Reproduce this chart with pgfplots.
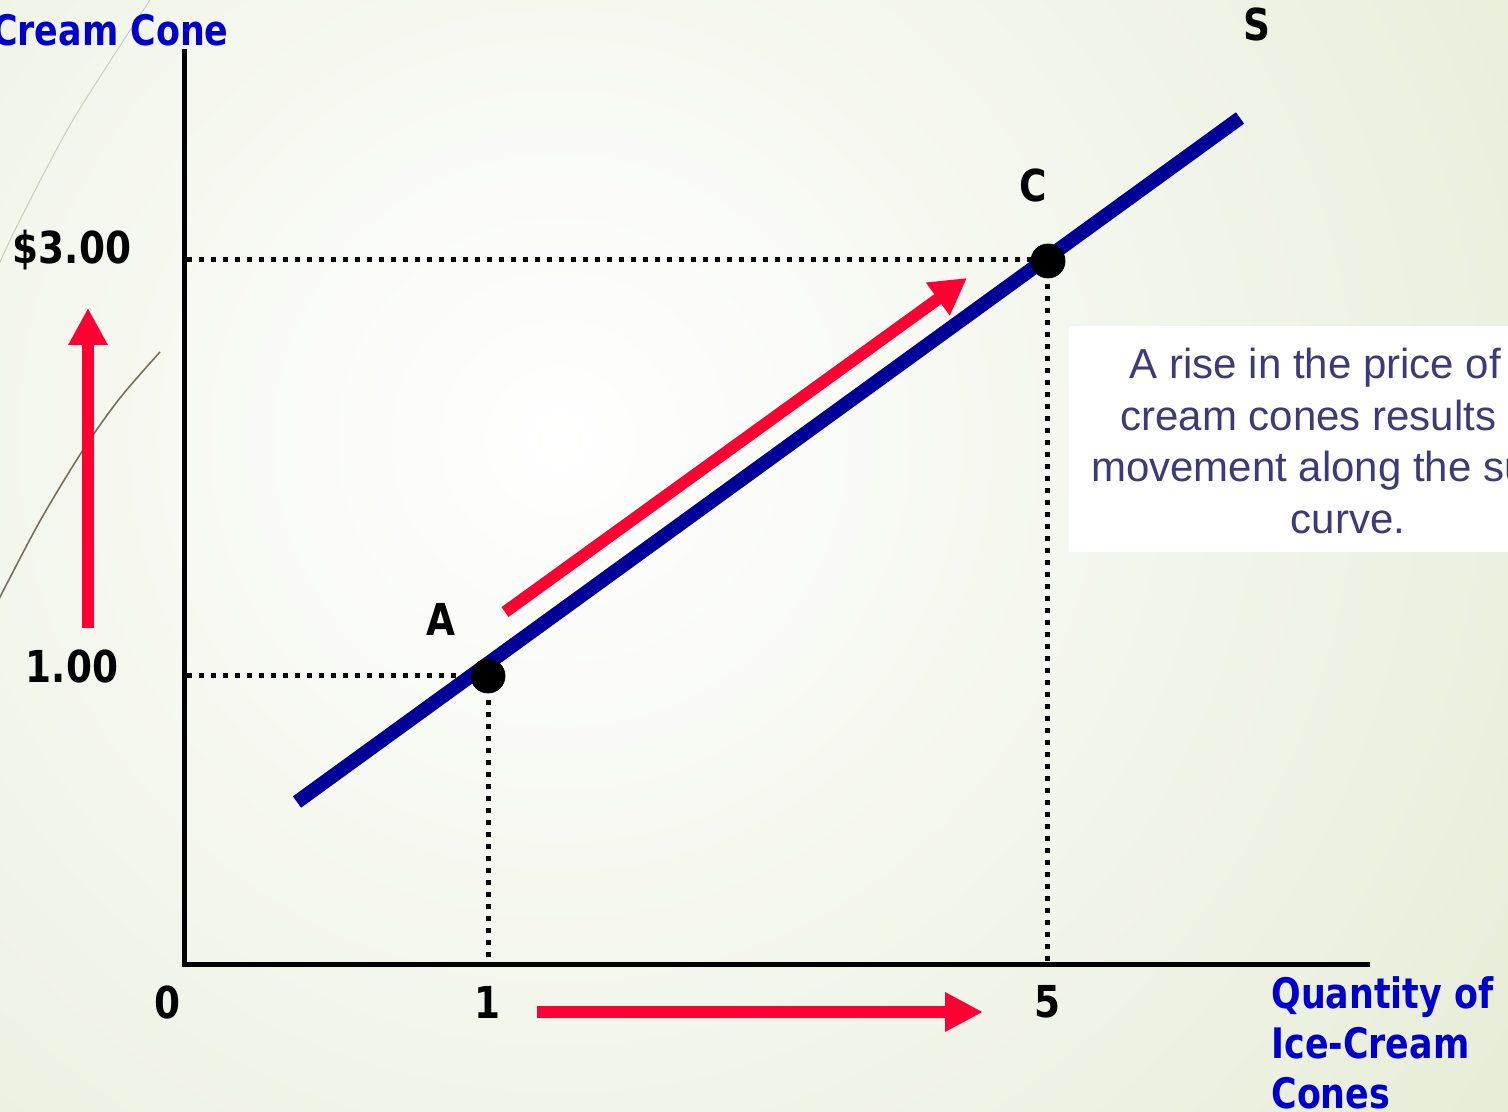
\documentclass[border=0pt]{standalone}
\usepackage{fontspec}
\setmainfont{Liberation Sans}
\newfontfamily\vb[FakeStretch=0.85]{DejaVu Sans}
\newfontfamily\vbb[FakeStretch=0.83]{DejaVu Sans}
\usepackage{pgfplots}
\pgfplotsset{compat=1.18}
\usetikzlibrary{arrows.meta}
\definecolor{bgG}{RGB}{226,233,208}
\definecolor{supnavy}{RGB}{0,0,153}
\definecolor{arred}{RGB}{255,0,51}
\definecolor{tblue}{RGB}{0,0,204}
\definecolor{boxtxt}{RGB}{62,58,120}
\definecolor{faint}{RGB}{205,205,190}
\definecolor{brownish}{RGB}{120,112,95}
\begin{document}
\begin{tikzpicture}
\useasboundingbox (0,0) rectangle (754pt,556pt);
\clip (0,0) rectangle (754pt,556pt);
\fill[bgG] (0,0) rectangle (754pt,556pt);
\shade[inner color=white, outer color=bgG] (280pt,336pt) circle (700pt);
\begin{axis}[
  x=0.5pt, y=0.5pt,
  xmin=184, xmax=1367, ymin=147, ymax=1060,
  at={(92pt,73.5pt)}, anchor=south west,
  axis lines=left,
  axis line style={-, line width=2.5pt, black, line cap=rect},
  clip=false,
  xtick={184,488,1047},
  xticklabels={\hspace*{-8pt}0\hspace*{8pt},1,5},
  ytick={436,852},
  yticklabels={1.00,\$3.00},
  major tick length=0pt,
  tick style={draw=none},
  ticklabel style={font=\vb\bfseries\fontsize{22pt}{26pt}\selectfont, text=black},
  xticklabel style={anchor=center, yshift=-18.5pt},
  yticklabel style={anchor=center, xshift=-56pt, yshift=5pt},
  /pgf/number format/assume math mode=true,
]
% slide decorations
\addplot[faint, line width=0.5pt, smooth] coordinates {(150,1112) (73,992) (20,892) (0,850) (-5,840)};
\addplot[brownish, line width=0.8pt, smooth] coordinates {(-5,505) (0,515) (40,591) (83,662) (120,714) (160,760)};
% text box
\fill[white] (axis cs:1069,560) rectangle (axis cs:1520,786);
\node[text=boxtxt, font=\fontsize{21pt}{25.75pt}\selectfont, align=center, inner sep=0pt] at (axis cs:1348,671) {A rise in the price of ice\rlap{-}\\cream cones results in a\\movement along the supply\\curve.};
% dotted guides
\addplot[black, line width=2.5pt, dash pattern=on 2.5pt off 3.5pt] coordinates {(187,852) (1047,852)};
\addplot[black, line width=2.5pt, dash pattern=on 2.5pt off 3.5pt] coordinates {(187,436) (488,436)};
\addplot[black, line width=2.5pt, dash pattern=on 2.5pt off 3.5pt] coordinates {(488,436) (488,149)};
\addplot[black, line width=2.5pt, dash pattern=on 2.5pt off 3.5pt] coordinates {(1047,852) (1047,149)};
% supply curve
\addplot[supnavy, line width=7pt] coordinates {(297,310) (1240,994)};
% points A and C
\addplot[only marks, mark=*, mark size=8.5pt, black] coordinates {(488,436) (1048,851)};
% red arrows
\addplot[arred, line width=6pt, -{Triangle[width=19pt,length=18pt]}] coordinates {(505,500) (967,834)};
\addplot[arred, line width=6pt, -{Triangle[width=18.5pt,length=18.5pt]}] coordinates {(88,484) (88,804)};
\addplot[arred, line width=6pt, -{Triangle[width=18.5pt,length=19pt]}] coordinates {(537,100) (983,100)};
% labels
\node[font=\vb\bfseries\fontsize{22pt}{26pt}\selectfont] at (axis cs:441,493) {A};
\node[font=\vb\bfseries\fontsize{22pt}{26pt}\selectfont] at (axis cs:1033,926) {C};
\node[font=\vb\bfseries\fontsize{22pt}{26pt}\selectfont] at (axis cs:1257,1087) {S};
\node[font=\vbb\bfseries\fontsize{21pt}{25pt}\selectfont, text=tblue, anchor=east, inner sep=0pt] at (axis cs:229,1082) {Price of Ice-Cream Cone};
\node[font=\vbb\bfseries\fontsize{21pt}{25pt}\selectfont, text=tblue, anchor=west, align=left, inner sep=0pt] at (axis cs:1271,69) {Quantity of\\Ice-Cream\\Cones};
\end{axis}
\end{tikzpicture}
\end{document}
